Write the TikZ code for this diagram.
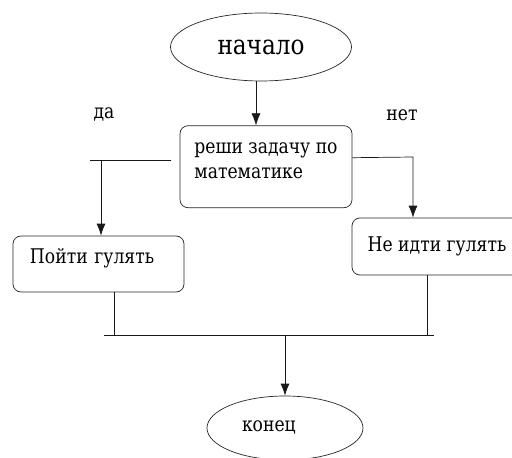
\documentclass[tikz,border=0pt]{standalone}
\usepackage{fontspec}
\setmainfont{DejaVu Serif}[FakeStretch=0.85]
\usetikzlibrary{positioning,shapes.geometric,arrows.meta}

\begin{document}
\begin{tikzpicture}
\tikzstyle{term}=[ellipse, draw=black!85, inner sep=0pt, font=\fontsize{11.5}{14}\selectfont]
\tikzstyle{box}=[rectangle, rounded corners=1.6mm, draw=black!85, inner sep=0pt, font=\fontsize{11.5}{14}\selectfont]
\tikzstyle{connect}=[-{Latex[length=2.4mm,width=1.8mm]}, black!90]
\tikzstyle{wire}=[black!90]
\tikzstyle{answer}=[font=\fontsize{11.5}{14}\selectfont]
\useasboundingbox (0,0) rectangle (10.24,9.14);
  \node[term, minimum width=3.62cm, minimum height=1.36cm, font=\fontsize{15.5}{18}\selectfont] (start) at (5.22,8.2) {начало};
  \node[box, below=0.88cm of start, xshift=1mm, minimum width=3.44cm, minimum height=1.64cm, align=left, text depth=7pt] (dec) {реши задачу по\\математике};
  \node[box, minimum width=3.42cm, minimum height=1.12cm, text width=2.74cm, align=left, text depth=9pt] (yes) at (1.97,3.86) {Пойти гулять};
  \node[box, minimum width=3.4cm, minimum height=1.14cm] (no) at (8.74,4.21) {Не идти гулять};
  \node[term, minimum width=3.12cm, minimum height=1.28cm, text width=1.72cm, align=left] (end) at (5.70,0.58) {конец};
  \node[answer] (da) at (2.08,6.84) {да};
  \node[answer] (net) at (8.04,6.84) {нет};
  \draw[connect] ([xshift=-1mm]start.south) -- ([xshift=-1mm]start.south |- dec.north);
  % branch yes
  \coordinate (yfork) at (1.80,5.94);
  \coordinate (yend) at (3.42,5.94);
  \coordinate (ydrop) at (2.02,5.94);
  \draw[wire] (yend) -- (yfork);
  \draw[connect] (ydrop) -- (ydrop |- yes.north);
  % branch no
  \coordinate (nturn) at (8.26,6.0);
  \draw[connect] ([yshift=1.8mm]dec.east) -- (nturn) -- (nturn |- no.north);
  % join
  \coordinate (busl) at (2.08,2.44);
  \coordinate (busr) at (8.68,2.44);
  \draw[wire] (busl) -- (busr);
  \draw[wire] ([xshift=3.2mm]yes.south) -- ([xshift=3.2mm]yes.south |- busl);
  \draw[wire] ([xshift=-2mm]no.south) -- ([xshift=-2mm]no.south |- busr);
  \draw[connect] (end.north |- busl) -- (end.north);
\end{tikzpicture}
\end{document}
